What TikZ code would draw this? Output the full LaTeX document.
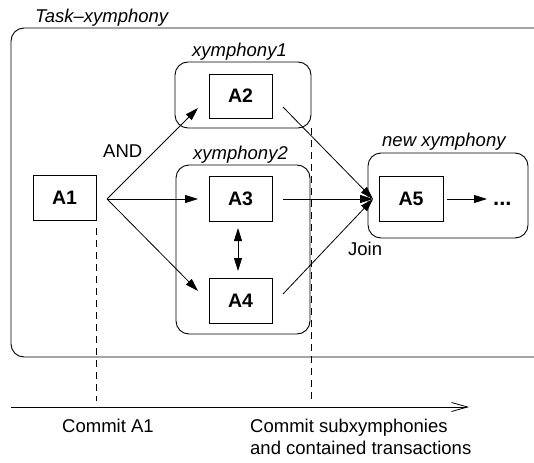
\documentclass[tikz,border=0pt]{standalone}
\usepackage{fontspec}
\setmainfont{Liberation Sans}
\usetikzlibrary{arrows.meta}
\begin{document}
\begin{tikzpicture}[x=1pt,y=-1pt,
  every node/.style={font=\fontsize{18.5}{22}\selectfont, inner sep=0pt},
  txbox/.style={draw, line width=0.9pt, font=\fontsize{19.5}{22}\selectfont\bfseries,
                minimum width=63pt, minimum height=45pt},
  group/.style={draw, line width=0.9pt, rounded corners=13pt},
  lbl/.style={anchor=base west, font=\fontsize{18.5}{22}\selectfont\itshape},
  txt/.style={anchor=base west},
  flow/.style={line width=0.8pt, -{Triangle[length=13pt,width=8pt]}},
  both/.style={line width=0.8pt, {Triangle[length=13pt,width=8pt]}-{Triangle[length=13pt,width=8pt]}},
  marker/.style={line width=0.8pt, dash pattern=on 7pt off 5pt},
  timeline/.style={line width=0.8pt, -{Straight Barb[length=16pt,width=9pt]}}
]
\useasboundingbox (0,0) rectangle (534,462);
\clip (0,0) rectangle (534,462);

% enclosing task region (runs off the right edge)
\node[group, minimum width=549pt, minimum height=329pt] (task) at (285.5,192.5) {};
\node[lbl] (tasklbl) at (35,23) {Task--xymphony};

% sub-xymphony groups
\node[group, minimum width=136pt, minimum height=66pt] (x1) at (243,95) {};
\node[lbl] (x1lbl) at (192,57) {xymphony1};
\node[group, minimum width=134pt, minimum height=169pt] (x2) at (243,249.5) {};
\node[lbl] (x2lbl) at (193,160) {xymphony2};
\node[group, minimum width=160pt, minimum height=85pt] (xn) at (448,195.5) {};
\node[lbl] (xnlbl) at (382,147) {new xymphony};

% transactions
\node[txbox] (A1) at (64.5,197.5) {A1};
\node[txbox, minimum height=44pt] (A2) at (240.5,96) {A2};
\node[txbox] (A3) at (240.5,198.5) {A3};
\node[txbox] (A4) at (240.5,300.5) {A4};
\node[txbox, minimum width=64pt] (A5) at (411,198.5) {A5};
\node[anchor=base west, font=\fontsize{22}{24}\selectfont\bfseries] (more) at (493,205) {...};

% fork out of A1
\coordinate (fork) at (107,199);
\coordinate (in2) at (198,108);
\coordinate (in3) at (198,199);
\coordinate (in4) at (198,291);
\draw[flow] (fork) -- (in2);
\draw[flow] (fork) -- (in3);
\draw[flow] (fork) -- (in4);
\node[txt] (and) at (103,158) {AND};

% A3 <-> A4
\coordinate (a34top) at (238,228);
\coordinate (a34bot) at (238,271);
\draw[both] (a34top) -- (a34bot);

% join into A5
\coordinate (join) at (373,199);
\coordinate (out2) at (283,107);
\coordinate (out3) at (283,199);
\coordinate (out4) at (283,294);
\draw[flow] (out2) -- (join);
\draw[flow] (out3) -- (join);
\draw[flow] (out4) -- (join);
\node[txt] (joinlbl) at (348,255) {Join};

% A5 onwards
\coordinate (a5out) at (447,199);
\coordinate (moreIn) at (487,199);
\draw[flow] (a5out) -- (moreIn);

% commit markers and time axis
\coordinate (c1top) at (96,228);
\coordinate (c1bot) at (96,401);
\coordinate (c2top) at (311,128);
\coordinate (c2bot) at (311,401);
\draw[marker] (c1top) -- (c1bot);
\draw[marker] (c2top) -- (c2bot);
\coordinate (t0) at (11,407);
\coordinate (t1) at (469,407);
\draw[timeline] (t0) -- (t1);

\node[txt] (commit1) at (62,432) {Commit A1};
\node[txt] (commit2a) at (250,432) {Commit subxymphonies};
\node[txt] (commit2b) at (250,454) {and contained transactions};
\end{tikzpicture}
\end{document}
